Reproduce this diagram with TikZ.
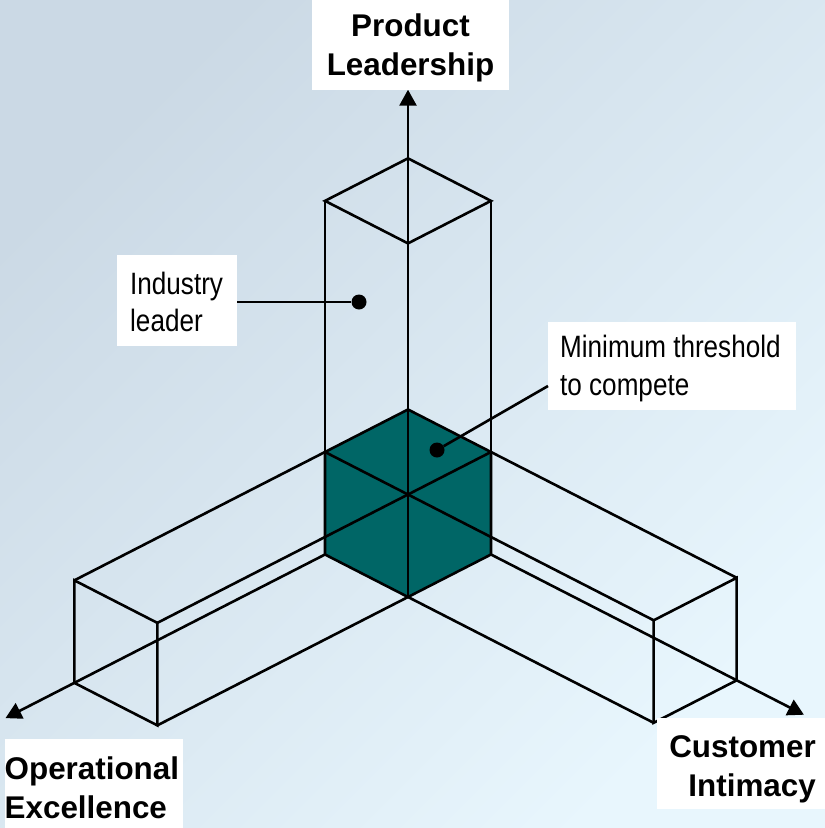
\documentclass[tikz,border=0pt]{standalone}
\usepackage{fontspec}
\setmainfont{Liberation Sans}
\newfontfamily\narrowfont[FakeStretch=0.845]{Liberation Sans}
\usetikzlibrary{arrows.meta}
\definecolor{cubeteal}{RGB}{0,102,102}
\definecolor{bgdark}{RGB}{203,217,229}
\definecolor{bgmid}{RGB}{226,240,249}
\definecolor{bglight}{RGB}{232,246,253}
\begin{document}
\begin{tikzpicture}[x=1bp,y=-1bp,
  wire/.style={line width=2.6bp, line join=miter, line cap=butt},
  axis/.style={wire, -{Triangle[length=16bp,width=17bp]}},
  tag/.style={fill=white, draw=none, inner sep=0pt},
  boldtxt/.style={font=\bfseries\fontsize{31.5}{39}\selectfont, inner sep=0pt},
  thintxt/.style={font=\narrowfont\fontsize{31}{38}\selectfont, inner sep=0pt},
  pin/.style={circle, fill=black, inner sep=0pt, minimum size=15bp}]
\useasboundingbox (0,0) rectangle (825,828);
% backdrop
\shade[top color=bgdark, middle color=bgmid, bottom color=bglight, shading angle=45]
  (0,0) rectangle (825,828);

% three-axis box model, origin at the hidden back corner of the cube
\begin{scope}[shift={(408,512)}]
\begin{scope}[x={(-83bp,-42.5bp)}, y={(83bp,-42.5bp)}, z={(0bp,102.5bp)}]
  % unit cube (minimum threshold)
  \fill[cubeteal] (0,0,1) -- (1,0,1) -- (1,0,0) -- (1,1,0) -- (0,1,0) -- (0,1,1) -- cycle;
  % axes
  \draw[axis] (0,0,0) -- (0,0,4.12);
  \draw[axis] (1,0,0) -- (4.85,0,0);
  \draw[axis] (0,1,0) -- (0,4.77,0);
  % cube outline and front edges
  \draw[wire] (0,0,1) -- (1,0,1) -- (1,0,0) -- (1,1,0) -- (0,1,0) -- (0,1,1) -- cycle;
  \draw[wire] (1,1,1) -- (1,1,0);
  % vertical column
  \draw[wire] (0,0,3.45) -- (1,0,3.45) -- (1,1,3.45) -- (0,1,3.45) -- cycle;
  \draw[wire] (1,0,1) -- (1,0,3.45) (0,1,1) -- (0,1,3.45) (1,1,1) -- (1,1,3.45);
  % column along the operational axis
  \draw[wire] (1,0,1) -- (4.02,0,1) (0,1,1) -- (4.02,1,1) (1,1,0) -- (4.02,1,0);
  \draw[wire] (4.02,0,0) -- (4.02,1,0) -- (4.02,1,1) -- (4.02,0,1) -- cycle;
  % column along the customer axis
  \draw[wire] (0,1,1) -- (0,3.96,1) (1,0,1) -- (1,3.96,1) (1,1,0) -- (1,3.96,0);
  \draw[wire] (0,3.96,0) -- (1,3.96,0) -- (1,3.96,1) -- (0,3.96,1) -- cycle;
\end{scope}
\end{scope}

% axis labels
\node[tag, minimum width=197bp, minimum height=90bp] (plbox) at (410.5,45) {};
\node[boldtxt, anchor=base] (pl1) at (410.5,36) {Product};
\node[boldtxt, anchor=base] (pl2) at (410.5,75) {Leadership};

\node[tag, minimum width=178bp, minimum height=92bp] (oebox) at (94,785) {};
\node[boldtxt, anchor=base west] (oe1) at (4.5,779) {Operational};
\node[boldtxt, anchor=base west] (oe2) at (4.5,818) {Excellence};

\node[tag, minimum width=168bp, minimum height=91bp] (cibox) at (741,763.5) {};
\node[boldtxt, anchor=base east] (ci1) at (816,757) {Customer};
\node[boldtxt, anchor=base east] (ci2) at (816,796) {Intimacy};

% callouts
\node[tag, minimum width=120bp, minimum height=91bp] (ilbox) at (177,300.5) {};
\node[thintxt, anchor=base west] (il1) at (130,294) {Industry};
\node[thintxt, anchor=base west] (il2) at (130,331) {leader};

\node[tag, minimum width=248bp, minimum height=88bp] (mtbox) at (672,366) {};
\node[thintxt, anchor=base west] (mt1) at (560,357) {Minimum threshold};
\node[thintxt, anchor=base west] (mt2) at (560,395) {to compete};

\node[pin] (ilpin) at (359,302) {};
\node[pin] (mtpin) at (437,450) {};
\coordinate (mtend) at (548,386);
\draw[wire] (ilbox.east |- ilpin) -- (ilpin);
\draw[wire] (mtpin) -- (mtend);
\end{tikzpicture}
\end{document}
